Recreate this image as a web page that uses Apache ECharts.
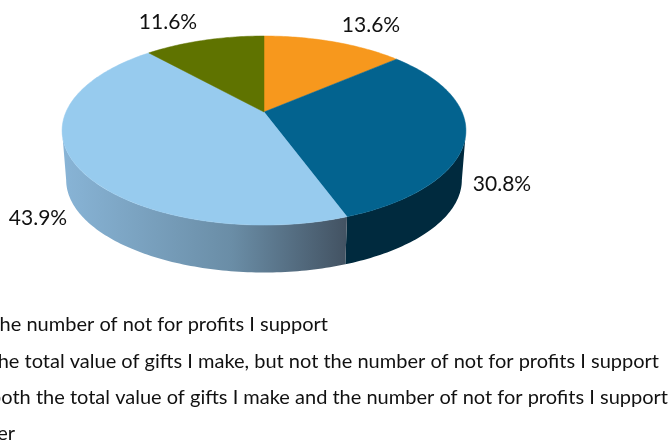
<!DOCTYPE html>
<html>
<head>
<meta charset="utf-8">
<style>
  html, body { margin: 0; padding: 0; background: #fff; overflow: hidden; }
  #pieChart { width: 671px; height: 443px; }
</style>
<script src="https://cdn.jsdelivr.net/npm/echarts@6/dist/echarts.min.js"></script>
</head>
<body>
<div id="pieChart"></div>
<script>
  // values, clockwise from 12 o'clock
  const values = [13.6, 30.8, 43.9, 11.6];
  const legendNames = [
    'the number of not for profits I support',
    'the total value of gifts I make, but not the number of not for profits I support',
    'both the total value of gifts I make and the number of not for profits I support',
    'Other'
  ];
  const sliceColors = ['#F7981D', '#03638F', '#97CBEE', '#5F7300'];
  const wallColors = ['#9a5f12', '#002A3E', null, '#3a4600'];

  // order of the legend lines is the same as the slices, only their text ends are placed
  const legendEnds = [328, 659, 668, 15];
  const legendY = [325, 362, 398, 434];
  const labelPos = [[371, 25], [502, 184], [38, 218], [168, 22]];

  // perspective of the tilted disc
  const cx = 264, k = 0.196;
  const topFace = { a: 198, b: 90.9, y0: 112 };
  const bottomFace = { a: 194, b: 89, y0: 161.8 };

  function project(face, deg) {
    const t = deg * Math.PI / 180;
    const w = 1 + k * Math.cos(t);
    return [cx + face.a * Math.sin(t) / w, face.y0 - face.b * Math.cos(t) / w];
  }

  function arc(face, from, to) {
    const pts = [];
    const n = Math.max(1, Math.ceil(Math.abs(to - from)));
    for (let i = 0; i <= n; i++) {
      pts.push(project(face, from + (to - from) * i / n));
    }
    return pts;
  }

  const total = values.reduce((s, v) => s + v, 0);
  const frontFrom = Math.acos(-k) * 180 / Math.PI;
  const frontTo = 360 - frontFrom;

  function renderSlice(params, api) {
    const i = params.dataIndex;
    let before = 0;
    for (let j = 0; j < i; j++) before += values[j];
    const start = before / total * 360;
    const end = (before + api.value(0)) / total * 360;
    const children = [];

    // side wall, only the part that faces the viewer
    const wallStart = Math.max(start, frontFrom);
    const wallEnd = Math.min(end, frontTo);
    if (wallEnd > wallStart) {
      const fill = wallColors[i] || new echarts.graphic.LinearGradient(63, 0, 345, 0, [
        { offset: 0, color: '#88B4D6' },
        { offset: 0.6, color: '#6A8DA6' },
        { offset: 1, color: '#435363' }
      ], true);
      children.push({
        type: 'polygon',
        shape: { points: arc(topFace, wallStart, wallEnd).concat(arc(bottomFace, wallEnd, wallStart)) },
        style: { fill: fill }
      });
    }

    children.push({
      type: 'polygon',
      shape: { points: [[cx, topFace.y0]].concat(arc(topFace, start, end)) },
      style: { fill: sliceColors[i], stroke: sliceColors[i], lineWidth: 0.5 }
    });

    children.push({
      type: 'text',
      style: {
        text: api.value(0).toFixed(1) + '%',
        x: labelPos[i][0],
        y: labelPos[i][1],
        align: 'center',
        verticalAlign: 'middle',
        fill: '#111',
        font: '21px Lato'
      }
    });
    return { type: 'group', children: children };
  }

  const myChart = echarts.init(document.getElementById('pieChart'));
  myChart.setOption({
    animation: false,
    backgroundColor: '#fff',
    graphic: legendNames.map((name, i) => ({
      type: 'text',
      x: legendEnds[i],
      y: legendY[i],
      style: {
        text: name,
        align: 'right',
        verticalAlign: 'middle',
        fill: '#111',
        font: '20px Lato'
      }
    })),
    series: [
      {
        type: 'custom',
        coordinateSystem: 'none',
        renderItem: renderSlice,
        data: values
      }
    ]
  });
</script>
</body>
</html>
